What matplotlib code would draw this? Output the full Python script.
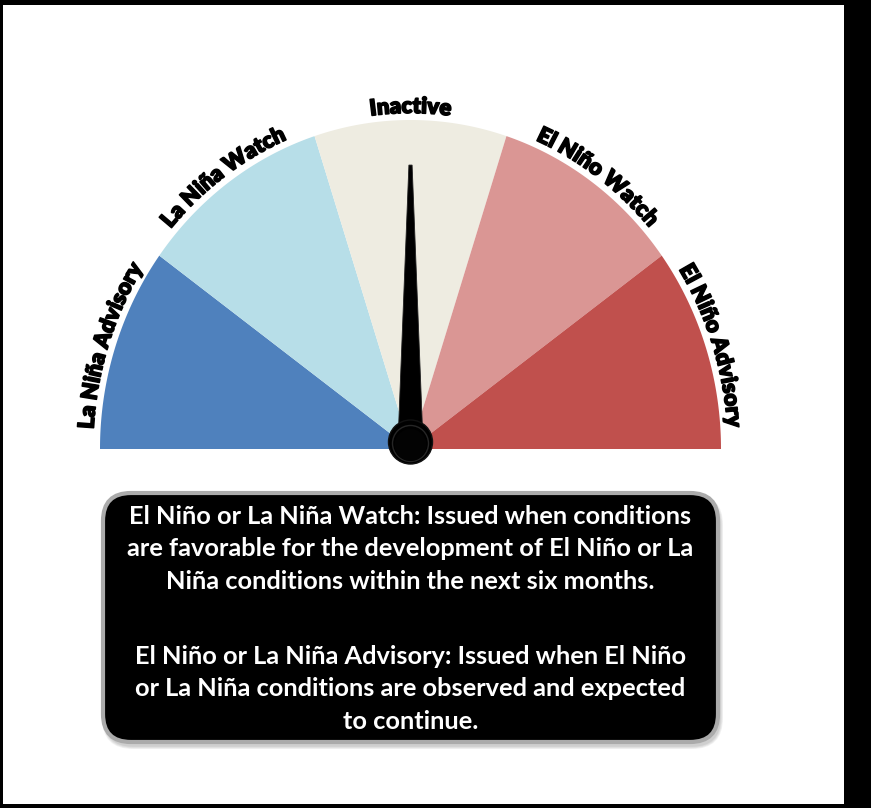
import numpy as np
import matplotlib
matplotlib.use("Agg")
import matplotlib.pyplot as plt
from matplotlib.patches import Rectangle, Polygon, Circle, FancyBboxPatch
import matplotlib.patheffects as pe

# ---- data ----
categories = ["La Niña Advisory", "La Niña Watch", "Inactive", "El Niño Watch", "El Niño Advisory"]
colors = ["#4F81BD", "#B7DEE8", "#EEECE1", "#DA9694", "#C0504D"]
current_status = "Inactive"
para_watch = ["El Niño or La Niña Watch: Issued when conditions",
              "are favorable for the development of El Niño or La",
              "Niña conditions within the next six months."]
para_advisory = ["El Niño or La Niña Advisory: Issued when El Niño",
                 "or La Niña conditions are observed and expected",
                 "to continue."]

W, H = 871, 808
fig = plt.figure(figsize=(W / 100, H / 100), dpi=100, facecolor="black")
ax = fig.add_axes([0, 0, 1, 1])
ax.set_xlim(0, W)
ax.set_ylim(H, 0)
ax.axis("off")
ax.add_patch(Rectangle((3, 5), 841, 799, facecolor="white", edgecolor="none", zorder=0))

# gauge geometry (pixels)
cx, cy = 410.5, 449.0
rx, ry = 310.5, 329.0

def pt(t_deg, sx, sy):
    t = np.radians(t_deg)
    return cx + sx * np.cos(t), cy - sy * np.sin(t)

n = len(categories)
span = 180.0 / n
for i, (cat, col) in enumerate(zip(categories, colors)):
    a0 = 180 - i * span
    a1 = 180 - (i + 1) * span
    ts = np.linspace(a0, a1, 80)
    xs, ys = pt(ts, rx, ry)
    verts = np.column_stack([np.r_[cx, xs], np.r_[cy, ys]])
    ax.add_patch(Polygon(verts, closed=True, facecolor=col, edgecolor="none", zorder=2))

# curved labels
fig.canvas.draw()
renderer = fig.canvas.get_renderer()
label_kw = dict(fontsize=16, fontweight="heavy", family=["Lato", "DejaVu Sans"], color="black")

def width_of(s):
    if s == "":
        return 0.0
    t = ax.text(0, 0, s, **label_kw)
    w = t.get_window_extent(renderer).width
    t.remove()
    return w

gap = 7.0
lrx, lry = rx + gap, ry + gap
for i, cat in enumerate(categories):
    tc = 180 - (i + 0.5) * span
    total = width_of(cat)
    tr = np.radians(tc)
    speed = np.hypot(lrx * np.sin(tr), lry * np.cos(tr)) * np.pi / 180.0
    for k, ch in enumerate(cat):
        if ch == " ":
            continue
        c_mid = (width_of(cat[:k]) + width_of(cat[:k + 1])) / 2.0
        off = c_mid - total / 2.0
        t = tc - off / speed
        x, y = pt(t, lrx, lry)
        r = np.radians(t)
        rot = np.degrees(np.arctan2(-lry * np.cos(r), lrx * np.sin(r)))
        ax.text(x, y, ch, rotation=rot, rotation_mode="anchor", ha="center", va="baseline",
                zorder=5, path_effects=[pe.withStroke(linewidth=1.1, foreground="black")],
                **label_kw)

# needle
idx = categories.index(current_status)
na = np.radians(180 - (idx + 0.5) * span)
tip_len = 0.863
tipx, tipy = cx + rx * tip_len * np.cos(na), cy - ry * tip_len * np.sin(na)
hub_y = cy - 7
perp = np.array([np.sin(na), np.cos(na)])
base_half, tip_half = 12.5, 1.6
needle = [
    (cx - perp[0] * base_half, hub_y - perp[1] * base_half),
    (tipx - perp[0] * tip_half, tipy - perp[1] * tip_half),
    (tipx + perp[0] * tip_half, tipy + perp[1] * tip_half),
    (cx + perp[0] * base_half, hub_y + perp[1] * base_half),
]
ax.add_patch(Polygon(needle, closed=True, facecolor="black", edgecolor="#222222", lw=0.6, zorder=6))
ax.add_patch(Circle((cx, hub_y), 22, facecolor="black", edgecolor="#111111", lw=1, zorder=7))
ax.add_patch(Circle((cx, hub_y + 1.5), 18, facecolor="none", edgecolor="#262626", lw=1.0, zorder=7))
ax.add_patch(Circle((cx, hub_y + 3), 16, facecolor="#030303", edgecolor="none", zorder=7))

# text box with shadow
bx0, by0, bx1, by1 = 103, 493, 718, 742
rad = 28
for k, a in enumerate([0.10, 0.10, 0.10, 0.12]):
    g = 6 - k * 1.5
    ax.add_patch(FancyBboxPatch((bx0 + 2 - g / 2, by0 + 4 - g / 2), bx1 - bx0 + g, by1 - by0 + g,
                                boxstyle=f"round,pad=0,rounding_size={rad + g / 2}",
                                facecolor="#808080", edgecolor="none", alpha=a, zorder=3))
ax.add_patch(FancyBboxPatch((bx0, by0), bx1 - bx0, by1 - by0,
                            boxstyle=f"round,pad=0,rounding_size={rad}",
                            facecolor="black", edgecolor="#ABABAB", lw=3.0, zorder=4))

box_kw = dict(fontsize=18.3, fontweight="bold", family=["Lato", "DejaVu Sans"], color="white",
              ha="center", va="center", linespacing=1.50, zorder=5)
ax.text(410.5, 549, "\n".join(para_watch), **box_kw)
ax.text(410.5, 689, "\n".join(para_advisory), **box_kw)

fig.savefig("out.png", dpi=100, facecolor=fig.get_facecolor())
